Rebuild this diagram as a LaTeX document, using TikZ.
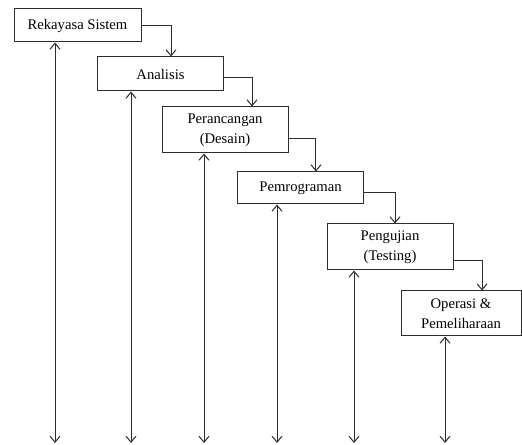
\documentclass[tikz,border=0pt]{standalone}
\usepackage{fontspec}
\setmainfont{Liberation Serif}
\usepackage{tikz}
\usetikzlibrary{arrows.meta, positioning, calc}
\definecolor{edge}{RGB}{45, 45, 45}
\tikzstyle{stage} = [rectangle, minimum width=94.5pt, minimum height=25.5pt, text centered, align=center, draw=edge, line width=0.75pt, inner sep=1pt, font=\fontsize{11}{15}\selectfont]
\tikzstyle{arrow} = [draw=edge, line width=0.75pt, ->, >={Straight Barb[length=4.5pt, width=7.5pt]}]
\tikzstyle{feedback} = [arrow, <->]

\begin{document}
\begin{tikzpicture}[x=0.75pt, y=-0.75pt]
\useasboundingbox (0,0) rectangle (522,445);

% Stage boxes
\node[stage, minimum width=95.25pt, minimum height=24.75pt] (sistem) at (77.5,25.5) {Rekayasa Sistem};
\node[stage] (analisis) at (160.5,74) {Analisis};
\node[stage, minimum height=34.5pt] (desain) at (225,130) {Perancangan\\(Desain)};
\node[stage, minimum height=24pt] (program) at (300.5,188) {Pemrograman};
\node[stage, minimum height=34.5pt] (testing) at (390,247) {Pengujian\\(Testing)};
\node[stage, minimum width=90pt, minimum height=33.75pt] (operasi) at (461,313.5) {Operasi \&\\Pemeliharaan};

% Arrows connecting stages
\draw[arrow] (sistem.east) -| ([xshift=7.9pt]analisis.north);
\draw[arrow] ([yshift=-3pt]analisis.east) -| ([xshift=20.25pt]desain.north);
\draw[arrow] ([yshift=-6.75pt]desain.east) -| ([xshift=11.6pt]program.north);
\draw[arrow] ([yshift=-3.75pt]program.east) -| ([xshift=3.75pt]testing.north);
\draw[arrow] ([yshift=-10.5pt]testing.east) -| ([xshift=15.75pt]operasi.north);

% Lines from each stage down to the base
\coordinate (base1) at (55,443);
\coordinate (base2) at (131,443);
\coordinate (base3) at (204,443);
\coordinate (base4) at (277,443);
\coordinate (base5) at (354,443);
\coordinate (base6) at (445,443);
\draw[feedback] (sistem.south -| base1) -- (base1);
\draw[feedback] (analisis.south -| base2) -- (base2);
\draw[feedback] (desain.south -| base3) -- (base3);
\draw[feedback] (program.south -| base4) -- (base4);
\draw[feedback] (testing.south -| base5) -- (base5);
\draw[feedback] (operasi.south -| base6) -- (base6);

\end{tikzpicture}
\end{document}
